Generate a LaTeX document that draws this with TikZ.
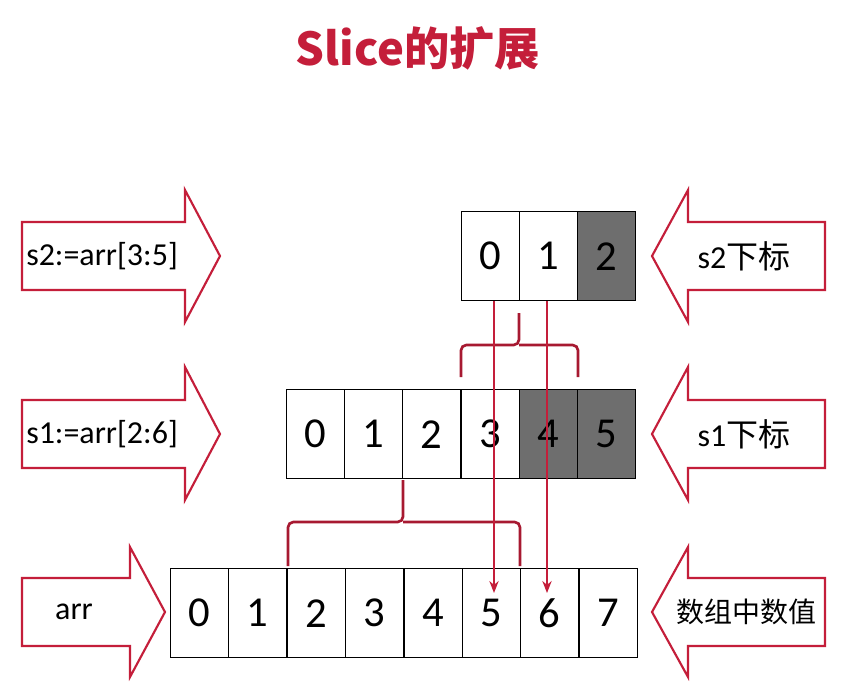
\documentclass[tikz,border=0pt]{standalone}
\usepackage{fontspec}
\usetikzlibrary{arrows.meta}
\setmainfont{Carlito}
\newfontfamily\cjk{Noto Sans CJK SC}
\definecolor{myred}{HTML}{C41E3A}
\definecolor{dark}{HTML}{6E6E6E}
\newcommand{\dg}[1]{\raisebox{-8pt}{#1}}
\begin{document}
\begin{tikzpicture}[x=0.75pt,y=-0.75pt,
  cell/.style={draw=black,line width=1pt,minimum width=43.5pt,minimum height=66.75pt,inner sep=0pt,anchor=north west,font=\fontsize{32}{32}\selectfont},
  dcell/.style={cell,fill=dark},
  blk/.style={draw=myred,line width=1.6pt,fill=white,line join=miter},
  lbl/.style={font=\fontsize{24}{24}\selectfont},
  brc/.style={draw=myred!85!black,line width=2pt,rounded corners=4pt},
  conn/.style={draw=myred,line width=1.2pt,-{Stealth[length=9pt,width=7pt]}}]
\useasboundingbox (0,0) rectangle (862,697);
\node[font=\fontsize{34}{34}\selectfont\bfseries\cjk,text=myred] (title) at (418,48) {Slice的扩展};
% left block arrows
\draw[blk] (22,222) -- (185,222) -- (185,190) -- (220,256) -- (185,322) -- (185,290) -- (22,290) -- cycle;
\node[lbl] (a1) at (102,256) {s2:=arr[3:5]};
\draw[blk] (22,400) -- (185,400) -- (185,367) -- (220,434) -- (185,500) -- (185,468) -- (22,468) -- cycle;
\node[lbl] (a2) at (102,434) {s1:=arr[2:6]};
\draw[blk] (22,578) -- (130,578) -- (130,547) -- (165,612) -- (130,677) -- (130,646) -- (22,646) -- cycle;
\node[lbl] (a3) at (74,612) {arr};
% right block arrows
\draw[blk] (825,222) -- (688,222) -- (688,190) -- (652,256) -- (688,322) -- (688,290) -- (825,290) -- cycle;
\node[lbl] (b1) at (744,256) {s2\cjk 下标};
\draw[blk] (825,400) -- (688,400) -- (688,367) -- (652,434) -- (688,500) -- (688,468) -- (825,468) -- cycle;
\node[lbl] (b2) at (744,434) {s1\cjk 下标};
\draw[blk] (825,578) -- (688,578) -- (688,547) -- (652,612) -- (688,677) -- (688,646) -- (825,646) -- cycle;
\node[lbl,font=\fontsize{21}{21}\selectfont\cjk] (b3) at (746,612) {数组中数值};
% arrays
\node[cell] (s20) at (461,211) {\dg{0}};
\node[cell] (s21) at (519,211) {\dg{1}};
\node[dcell] (s22) at (577,211) {\dg{2}};
\foreach \i/\x in {0/286,1/344,2/402,3/461}{\node[cell] (s1\i) at (\x,389) {\dg{\i}};}
\node[dcell] (s14) at (519,389) {\dg{4}};
\node[dcell] (s15) at (577,389) {\dg{5}};
\foreach \i/\x in {0/170,1/228,2/287,3/345,4/404,5/462,6/520,7/579}{\node[cell] (r\i) at (\x,568) {\dg{\i}};}
% braces
\draw[brc] (461,377) -- (461,345) -- (519,345) -- (519,313);
\draw[brc] (519,345) -- (578,345) -- (578,377);
\draw[brc] (288,566) -- (288,522) -- (403,522) -- (403,480);
\draw[brc] (403,522) -- (520,522) -- (520,566);
% connectors
\coordinate (e5) at (494,593);
\coordinate (e6) at (547,593);
\draw[conn] (s20.south -| e5) -- (e5);
\draw[conn] (s21.south -| e6) -- (e6);
\end{tikzpicture}
\end{document}
